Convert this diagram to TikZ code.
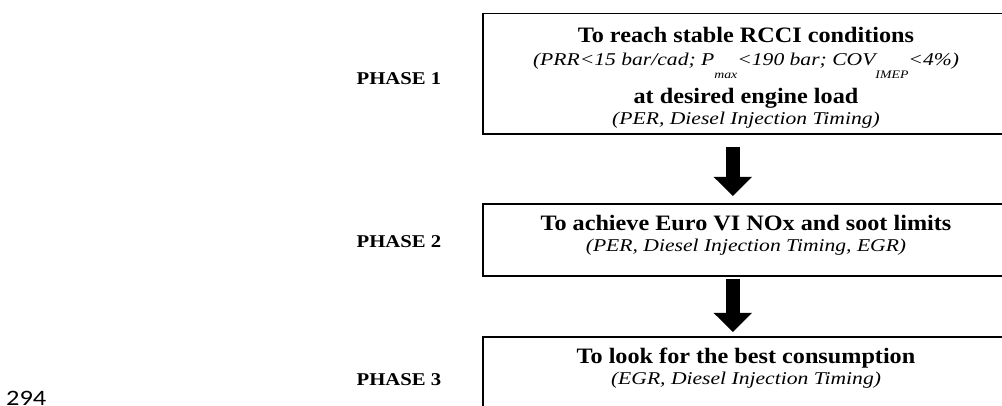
\documentclass[tikz,border=0pt]{standalone}
\usepackage{fontspec}
\setmainfont{Liberation Serif}[FakeStretch=1.2]
\newfontfamily\headfont{Liberation Serif}[FakeStretch=1.1]
\newfontfamily\phasefont{Liberation Serif}[FakeStretch=1.15]
\newfontfamily\pagenumfont{Carlito}[FakeStretch=1.2]
\usetikzlibrary{arrows.meta,calc}

\tikzset{
  stagebox/.style={draw, line width=1.6pt, minimum width=528pt, inner sep=0pt, anchor=north west},
  headline/.style={anchor=base, inner sep=0pt, font=\headfont\fontsize{22}{22}\selectfont\bfseries},
  noteline/.style={anchor=base, inner sep=0pt, font=\fontsize{18}{18}\selectfont\itshape},
  phaselabel/.style={anchor=base, inner sep=0pt, font=\phasefont\fontsize{18}{18}\selectfont\bfseries},
  fatarrow/.style={line width=14pt, -{Triangle[width=37pt,length=19pt]}}
}
\newcommand{\lowsub}[1]{\raisebox{-13pt}{\fontsize{11.5}{11.5}\selectfont #1}}

\begin{document}
\begin{tikzpicture}[x=1pt,y=-1pt]
  \useasboundingbox (0,0) rectangle (1002,406);
  \clip (0,0) rectangle (1002,406);

  % stage boxes (right edges run past the page)
  \node[stagebox, minimum height=120.5pt] (s1) at (482,12.7) {};
  \node[stagebox, minimum height=72pt]    (s2) at (482,203) {};
  \node[stagebox, minimum height=90pt]    (s3) at (482,336) {};

  % stage 1 text
  \node[headline] (t11) at (746,43) {To reach stable RCCI conditions};
  \node[noteline] (t12) at (746,66) {(PRR<15 bar/cad; P\lowsub{max}<190 bar; COV\lowsub{IMEP}<4\%)};
  \node[headline] (t13) at (746,104) {at desired engine load};
  \node[noteline] (t14) at (746,125) {(PER, Diesel Injection Timing)};

  % stage 2 text
  \node[headline] (t21) at (746,231) {To achieve Euro VI NOx and soot limits};
  \node[noteline] (t22) at (746,252) {(PER, Diesel Injection Timing, EGR)};

  % stage 3 text
  \node[headline] (t31) at (746,363) {To look for the best consumption};
  \node[noteline] (t32) at (746,384) {(EGR, Diesel Injection Timing)};

  % phase labels
  \node[phaselabel] (ph1) at (399,85)  {PHASE 1};
  \node[phaselabel] (ph2) at (399,248) {PHASE 2};
  \node[phaselabel] (ph3) at (399,385) {PHASE 3};

  % page number
  \node[anchor=base west, inner sep=0pt, font=\pagenumfont\fontsize{22}{22}\selectfont] (pg) at (6,405.5) {294};

  % arrows between stages
  \draw[fatarrow] ([xshift=-14pt,yshift=-12pt]s1.south) -- ([xshift=-14pt,yshift=7pt]s2.north);
  \draw[fatarrow] ([xshift=-14pt,yshift=-2pt]s2.south) -- ([xshift=-14pt,yshift=4pt]s3.north);
\end{tikzpicture}
\end{document}
